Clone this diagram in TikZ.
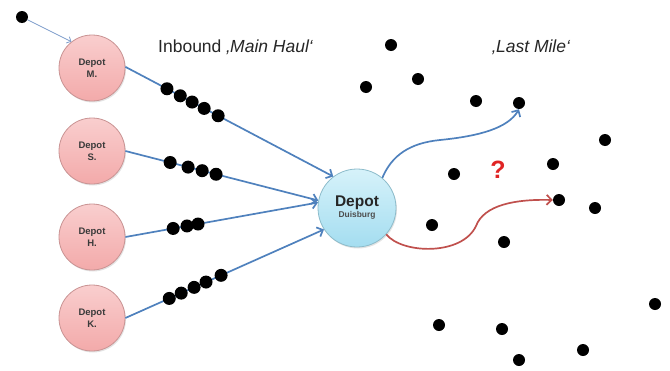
\documentclass[tikz,border=0pt]{standalone}
\usepackage{fontspec}
\setmainfont{Liberation Sans}
\usetikzlibrary{arrows.meta,shadows}
\definecolor{lineblue}{HTML}{4F81BD}
\definecolor{thinblue}{HTML}{7C9CCB}
\definecolor{curvered}{HTML}{C0504D}
\definecolor{pinktop}{HTML}{F9CECE}
\definecolor{pinkbot}{HTML}{F3AAAA}
\definecolor{pinkborder}{HTML}{C99393}
\definecolor{cyantop}{HTML}{D6F2FA}
\definecolor{cyanbot}{HTML}{A4DDF0}
\definecolor{cyanborder}{HTML}{8DBCCB}
\definecolor{labelgray}{HTML}{3A3A3A}
\definecolor{qred}{HTML}{E02424}
\begin{document}
\begin{tikzpicture}[x=1pt,y=-1pt,
  depot/.style={circle, minimum size=66pt, inner sep=0pt, draw=pinkborder, line width=0.8pt,
    top color=pinktop, bottom color=pinkbot,
    drop shadow={opacity=0.22, shadow xshift=1pt, shadow yshift=-1.5pt},
    align=center, text=labelgray, font=\fontsize{9.5}{12}\selectfont\bfseries},
  hub/.style={circle, minimum size=78pt, inner sep=0pt, draw=cyanborder, line width=0.8pt,
    top color=cyantop, bottom color=cyanbot,
    drop shadow={opacity=0.22, shadow xshift=1pt, shadow yshift=-1.5pt},
    align=center, text=black!85},
  dot/.style={circle, fill=black, minimum size=12pt, inner sep=0pt},
  bigdot/.style={circle, fill=black, minimum size=13pt, inner sep=0pt},
  inarrow/.style={draw=lineblue, line width=1.7pt, -{Straight Barb[length=5pt,width=10pt]}},
  thinarrow/.style={draw=thinblue, line width=0.8pt, -{Straight Barb[length=3.5pt,width=7pt]}},
  bluecurve/.style={draw=lineblue, line width=1.7pt, -{Straight Barb[length=5pt,width=10pt]}},
  redcurve/.style={draw=curvered, line width=1.7pt, -{Straight Barb[length=5pt,width=10pt]}},
  title/.style={font=\fontsize{17.5}{20}\selectfont, text=black!85, inner sep=0pt}
]
\useasboundingbox (0,0) rectangle (670,370);

% depots
\node[depot] (M) at (92,68) {Depot\\M.};
\node[depot] (S) at (92,151) {Depot\\S.};
\node[depot] (H) at (92,237) {Depot\\H.};
\node[depot] (K) at (92,318) {Depot\\K.};
\node[hub] (D) at (357,208) {{\fontsize{15.5}{17}\selectfont\bfseries Depot}\\[-1pt]{\fontsize{8.4}{10}\selectfont\bfseries\color{black!70}Duisburg}};

% titles
\node[title, anchor=west] (t1) at (158,47) {Inbound \textit{‚Main Haul‘}};
\node[title, anchor=west] (t2) at (492,47) {\textit{‚Last Mile‘}};

% top-left source dot
\node[dot] (p0) at (22,17) {};
\draw[thinarrow] (p0) -- (M.128);

% inbound lines with queued shipments
\draw[inarrow] (M.2) -- (D.127)
  node[bigdot, pos=0.20] (m1) {} node[bigdot, pos=0.264] (m2) {} node[bigdot, pos=0.321] (m3) {}
  node[bigdot, pos=0.379] (m4) {} node[bigdot, pos=0.446] (m5) {};
\draw[inarrow] (S.0) -- (D.169)
  node[bigdot, pos=0.232] (s1) {} node[bigdot, pos=0.325] (s2) {} node[bigdot, pos=0.398] (s3) {}
  node[bigdot, pos=0.470] (s4) {};
\draw[inarrow] (H.0) -- (D.172)
  node[bigdot, pos=0.248] (h1) {} node[bigdot, pos=0.32] (h2) {} node[bigdot, pos=0.377] (h3) {};
\draw[inarrow] (K.0) -- (D.213)
  node[bigdot, pos=0.221] (k1) {} node[bigdot, pos=0.281] (k2) {} node[bigdot, pos=0.346] (k3) {}
  node[bigdot, pos=0.406] (k4) {} node[bigdot, pos=0.482] (k5) {};

% last mile customers
\node[dot] (c1) at (391,45) {};
\node[dot] (c2) at (366,87) {};
\node[dot] (c3) at (418,79) {};
\node[dot] (c4) at (476,101) {};
\node[dot] (c5) at (519,103) {};
\node[dot] (c6) at (605,140) {};
\node[dot] (c7) at (454,174) {};
\node[dot] (c8) at (553,164) {};
\node[dot] (c9) at (559,200) {};
\node[dot] (c10) at (595,208) {};
\node[dot] (c11) at (432,225) {};
\node[dot] (c12) at (504,242) {};
\node[dot] (c13) at (655,304) {};
\node[dot] (c14) at (439,325) {};
\node[dot] (c15) at (502,329) {};
\node[dot] (c16) at (519,360) {};
\node[dot] (c17) at (583,350) {};

% question mark
\node[text=qred, font=\fontsize{25}{28}\selectfont\bfseries] (q) at (498,170) {?};

% last mile curves
\draw[bluecurve] (D.50) .. controls (392,155) and (410,143) .. (440,140)
  .. controls (480,136) and (508,128) .. (c5.south);
\draw[redcurve] (D.-42) .. controls (402,254) and (462,256) .. (476,226)
  .. controls (484,205) and (515,199) .. (c9.west);
\end{tikzpicture}
\end{document}
